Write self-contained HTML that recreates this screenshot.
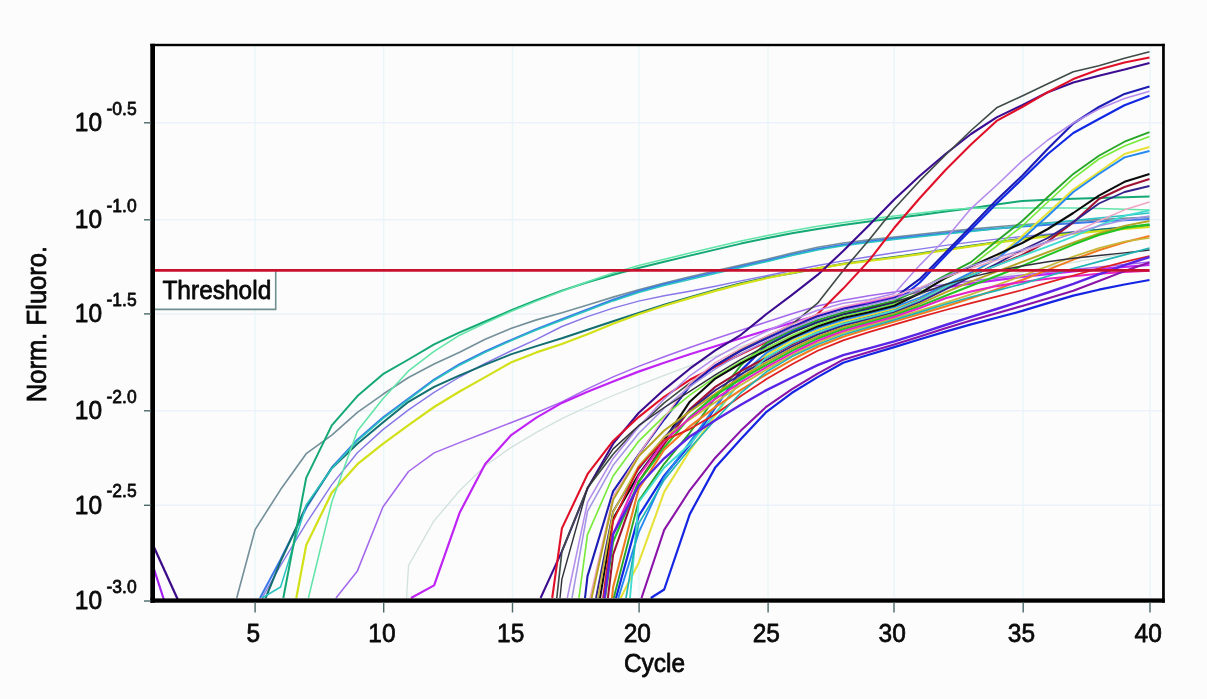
<!DOCTYPE html>
<html lang="en">
<head>
<meta charset="utf-8">
<title>Norm. Fluoro. vs Cycle</title>
<style>
html,body{margin:0;padding:0;background:#fcfcfc;}
body{width:1207px;height:699px;overflow:hidden;font-family:"Liberation Sans",sans-serif;}
svg{display:block;}
text{font-family:"Liberation Sans",sans-serif;fill:#0a0a0a;stroke:#0a0a0a;stroke-width:0.7px;stroke-linejoin:round;}
.t{font-size:24.5px;}
.s{font-size:17.5px;}
.g{stroke-width:1.5;fill:none;}
.k{stroke:#4a6868;stroke-width:1.4;fill:none;}
.c{fill:none;stroke-width:2;stroke-linejoin:round;stroke-linecap:butt;}
</style>
</head>
<body>
<svg width="1207" height="699" viewBox="0 0 1207 699">
<rect x="0" y="0" width="1207" height="699" fill="#fcfcfc"/>

<g class="g" stroke="#eaf7f8">
<line x1="255.1" y1="46" x2="255.1" y2="598"/>
<line x1="383.7" y1="46" x2="383.7" y2="598"/>
<line x1="512.5" y1="46" x2="512.5" y2="598"/>
<line x1="639.1" y1="46" x2="639.1" y2="598"/>
<line x1="768.1" y1="46" x2="768.1" y2="598"/>
<line x1="894.0" y1="46" x2="894.0" y2="598"/>
<line x1="1023.2" y1="46" x2="1023.2" y2="598"/>
<line x1="1150.0" y1="46" x2="1150.0" y2="598"/>
</g>
<g class="g" stroke="#ecf2fa">
<line x1="155" y1="122.8" x2="1162" y2="122.8"/>
<line x1="155" y1="219.8" x2="1162" y2="219.8"/>
<line x1="155" y1="313.9" x2="1162" y2="313.9"/>
<line x1="155" y1="410.8" x2="1162" y2="410.8"/>
<line x1="155" y1="505.3" x2="1162" y2="505.3"/>
</g>
<clipPath id="cp"><rect x="153" y="45" width="1011" height="556"/></clipPath>
<g class="c" clip-path="url(#cp)">
<polyline stroke="#d2e2dc" stroke-width="1.32" points="406.6,598.0 408.5,565.7 434.1,520.7 459.6,490.8 485.2,465.8 510.8,447.6 536.4,432.4 561.9,418.7 587.5,406.6 613.1,395.5 638.6,385.3 664.2,375.4 689.8,365.8 715.3,356.2 740.9,346.5 766.5,337.5 792.0,329.4 817.6,321.8 843.2,314.6 868.8,307.9 894.3,301.4 919.9,295.1 945.5,288.9 971.0,282.9 996.6,277.2 1022.2,272.0 1047.8,267.0 1073.3,262.3 1098.9,257.9 1124.5,253.8 1149.5,250.0"/>
<polyline stroke="#74909a" stroke-width="1.65" points="236.7,598.0 255.1,529.6 280.6,489.6 306.2,453.7 331.8,435.1 357.4,412.3 382.9,394.3 408.5,377.5 434.1,364.1 459.6,352.2 485.2,339.3 510.8,328.5 536.4,319.9 561.9,312.8 587.5,305.0 613.1,297.1 638.6,289.7 664.2,283.0 689.8,276.7 715.3,270.8 740.9,265.1 766.5,259.4 792.0,253.1 817.6,247.2 843.2,243.0 868.8,239.9 894.3,237.1 919.9,234.3 945.5,231.6 971.0,229.1 996.6,226.8 1022.2,224.7 1047.8,222.8 1073.3,221.1 1098.9,219.6 1124.5,218.2 1149.5,217.0"/>
<polyline stroke="#3c78e8" points="260.0,598.0 280.6,559.5 306.2,508.0 331.8,467.5 357.4,439.7 382.9,417.5 408.5,398.5 434.1,379.6 459.6,364.2 485.2,351.5 510.8,340.1 536.4,329.1 561.9,319.3 587.5,309.4 613.1,299.7 638.6,291.2 664.2,284.3 689.8,278.1 715.3,272.1 740.9,266.4 766.5,260.7 792.0,254.7 817.6,249.0 843.2,244.7 868.8,241.5 894.3,238.6 919.9,235.8 945.5,233.2 971.0,230.8 996.6,228.6 1022.2,226.6 1047.8,224.8 1073.3,223.2 1098.9,221.6 1124.5,220.2 1149.5,219.0"/>
<polyline stroke="#8878e8" stroke-width="1.43" points="262.0,598.0 280.6,565.5 306.2,523.4 331.8,484.6 357.4,452.7 382.9,429.6 408.5,409.9 434.1,392.4 459.6,377.0 485.2,363.3 510.8,351.0 536.4,339.3 561.9,326.5 587.5,316.6 613.1,308.1 638.6,301.1 664.2,295.8 689.8,291.2 715.3,286.2 740.9,280.9 766.5,275.7 792.0,270.5 817.6,265.5 843.2,260.9 868.8,256.7 894.3,252.8 919.9,249.1 945.5,245.4 971.0,242.1 996.6,239.1 1022.2,236.5 1047.8,234.1 1073.3,231.8 1098.9,229.7 1124.5,227.8 1149.5,226.0"/>
<polyline stroke="#126e70" points="265.6,598.0 280.6,561.4 306.2,506.1 331.8,468.3 357.4,443.7 382.9,422.6 408.5,401.8 434.1,386.9 459.6,375.3 485.2,364.6 510.8,354.4 536.4,346.1 561.9,338.3 587.5,329.8 613.1,321.2 638.6,312.9 664.2,304.8 689.8,297.1 715.3,290.0 740.9,283.3 766.5,277.6 792.0,273.2 817.6,268.5 843.2,263.8 868.8,260.2 894.3,257.1 919.9,253.5 945.5,249.6 971.0,245.8 996.6,242.2 1022.2,238.7 1047.8,235.4 1073.3,232.5 1098.9,229.8 1124.5,227.2 1149.5,225.0"/>
<polyline stroke="#d2e018" stroke-width="2.20" points="296.3,598.0 306.2,545.3 331.8,492.7 357.4,464.2 382.9,443.8 408.5,425.1 434.1,407.0 459.6,391.5 485.2,377.1 510.8,362.6 536.4,352.4 561.9,344.0 587.5,334.2 613.1,323.8 638.6,314.2 664.2,305.8 689.8,298.1 715.3,290.9 740.9,284.1 766.5,278.2 792.0,273.0 817.6,268.3 843.2,264.2 868.8,260.8 894.3,257.7 919.9,254.1 945.5,250.2 971.0,246.3 996.6,242.7 1022.2,239.4 1047.8,236.3 1073.3,233.6 1098.9,231.2 1124.5,228.9 1149.5,227.0"/>
<polyline stroke="#2cc4c0" stroke-width="1.54" points="262.0,598.0 280.6,587.0 306.2,505.0 331.8,468.4 357.4,440.8 382.9,418.6 408.5,399.6 434.1,380.5 459.6,365.2 485.2,352.4 510.8,340.9 536.4,330.0 561.9,320.3 587.5,310.5 613.1,300.9 638.6,292.4 664.2,285.5 689.8,279.4 715.3,273.4 740.9,267.5 766.5,261.7 792.0,255.6 817.6,249.9 843.2,245.7 868.8,242.5 894.3,239.6 919.9,236.8 945.5,234.1 971.0,231.4 996.6,228.7 1022.2,226.0 1047.8,223.3 1073.3,220.6 1098.9,218.0 1124.5,215.5 1149.5,213.0"/>
<polyline stroke="#14a874" points="283.3,598.0 306.2,477.9 331.8,425.4 357.4,396.1 382.9,374.2 408.5,359.5 434.1,344.4 459.6,332.3 485.2,321.5 510.8,310.5 536.4,300.1 561.9,290.6 587.5,282.3 613.1,274.8 638.6,268.0 664.2,261.7 689.8,255.6 715.3,249.6 740.9,243.6 766.5,238.2 792.0,233.3 817.6,228.9 843.2,224.9 868.8,221.5 894.3,218.2 919.9,214.9 945.5,211.6 971.0,208.2 996.6,204.4 1022.2,201.0 1047.8,199.7 1073.3,198.8 1098.9,198.0 1124.5,197.2 1149.5,196.5"/>
<polyline stroke="#62e4a8" stroke-width="1.54" points="308.4,598.0 331.8,502.0 357.4,430.9 382.9,398.7 408.5,370.9 434.1,351.3 459.6,335.2 485.2,323.1 510.8,311.5 536.4,301.1 561.9,291.3 587.5,281.7 613.1,272.9 638.6,265.6 664.2,259.2 689.8,253.1 715.3,247.1 740.9,241.1 766.5,235.7 792.0,230.8 817.6,226.3 843.2,222.4 868.8,219.1 894.3,216.1 919.9,213.1 945.5,210.1 971.0,208.2 996.6,208.0 1022.2,208.0 1047.8,208.0 1073.3,208.1 1098.9,208.5 1124.5,209.2 1149.5,210.0"/>
<polyline stroke="#a468ec" stroke-width="1.54" points="336.0,598.0 357.4,570.9 382.9,507.0 408.5,471.5 434.1,452.9 459.6,442.6 485.2,432.8 510.8,422.7 536.4,412.7 561.9,401.9 587.5,388.9 613.1,376.9 638.6,366.4 664.2,356.8 689.8,347.5 715.3,338.7 740.9,330.3 766.5,322.1 792.0,313.8 817.6,306.1 843.2,300.3 868.8,295.8 894.3,291.9 919.9,288.0 945.5,284.5 971.0,281.1 996.6,278.0 1022.2,275.1 1047.8,272.3 1073.3,269.6 1098.9,267.0 1124.5,264.4 1149.5,262.0"/>
<polyline stroke="#c024f4" stroke-width="2.20" points="411.0,598.0 434.1,585.4 459.6,512.8 485.2,464.0 510.8,435.4 536.4,417.6 561.9,402.9 587.5,391.8 613.1,381.4 638.6,371.6 664.2,362.7 689.8,354.3 715.3,346.2 740.9,338.2 766.5,330.4 792.0,322.8 817.6,315.4 843.2,308.2 868.8,302.0 894.3,296.6 919.9,291.7 945.5,287.5 971.0,283.6 996.6,280.1 1022.2,277.0 1047.8,274.1 1073.3,271.5 1098.9,269.0 1124.5,266.8 1149.5,265.0"/>
<polyline stroke="#3a0a88" stroke-width="2.20" points="153.0,545.0 178.0,600.0"/>
<polyline stroke="#a020f0" stroke-width="2.20" points="153.0,566.0 164.0,600.0"/>
<polyline stroke="#3c0c90" stroke-width="2.09" points="540.6,598.0 561.9,551.4 587.5,488.6 613.1,443.7 638.6,413.0 664.2,389.6 689.8,368.7 715.3,350.4 740.9,334.8 766.5,314.0 792.0,294.9 817.6,274.9 843.2,251.0 868.8,225.4 894.3,199.6 919.9,175.8 945.5,154.0 971.0,134.0 996.6,117.4 1022.2,105.2 1047.8,92.2 1073.3,82.6 1098.9,75.7 1124.5,69.6 1149.5,63.0"/>
<polyline stroke="#404c48" stroke-width="1.65" points="556.8,598.0 561.9,551.4 587.5,488.0 613.1,454.2 638.6,426.4 664.2,402.8 689.8,383.1 715.3,365.5 740.9,349.5 766.5,336.6 792.0,324.4 817.6,303.2 843.2,270.4 868.8,240.2 894.3,208.5 919.9,180.7 945.5,155.0 971.0,130.5 996.6,107.8 1022.2,96.0 1047.8,83.8 1073.3,71.7 1098.9,65.7 1124.5,58.3 1149.5,51.8"/>
<polyline stroke="#e01028" stroke-width="2.09" points="552.2,598.0 561.9,528.4 587.5,474.2 613.1,440.9 638.6,417.1 664.2,396.8 689.8,379.8 715.3,366.7 740.9,354.3 766.5,341.8 792.0,329.3 817.6,314.1 843.2,288.6 868.8,260.9 894.3,227.8 919.9,198.0 945.5,170.0 971.0,144.4 996.6,120.9 1022.2,107.0 1047.8,92.2 1073.3,79.1 1098.9,69.6 1124.5,62.6 1149.5,57.4"/>
<polyline stroke="#1c1cb4" stroke-width="2.09" points="585.0,598.0 587.5,576.1 613.1,491.4 638.6,454.5 664.2,419.5 689.8,386.1 715.3,365.4 740.9,350.9 766.5,338.5 792.0,326.6 817.6,316.3 843.2,308.8 868.8,304.1 894.3,297.9 919.9,278.9 945.5,252.8 971.0,226.4 996.6,200.0 1022.2,175.7 1047.8,148.8 1073.3,123.5 1098.9,107.0 1124.5,93.9 1149.5,86.6"/>
<polyline stroke="#b48cec" stroke-width="1.54" points="567.3,598.0 587.5,502.3 613.1,458.4 638.6,426.9 664.2,399.1 689.8,375.8 715.3,357.9 740.9,343.6 766.5,331.3 792.0,320.0 817.6,310.2 843.2,303.3 868.8,299.7 894.3,293.4 919.9,265.1 945.5,239.0 971.0,208.6 996.6,185.2 1022.2,160.9 1047.8,140.0 1073.3,123.0 1098.9,109.0 1124.5,98.5 1149.5,91.3"/>
<polyline stroke="#1028e4" stroke-width="2.20" points="616.0,598.0 638.6,516.1 664.2,475.7 689.8,444.8 715.3,407.7 740.9,370.6 766.5,345.5 792.0,331.9 817.6,322.1 843.2,314.4 868.8,309.5 894.3,302.8 919.9,282.5 945.5,255.5 971.0,229.4 996.6,203.5 1022.2,179.0 1047.8,154.0 1073.3,133.0 1098.9,119.0 1124.5,105.2 1149.5,95.7"/>
<polyline stroke="#26a626" stroke-width="1.87" points="613.7,598.0 638.6,501.1 664.2,463.8 689.8,432.8 715.3,397.8 740.9,365.4 766.5,343.1 792.0,329.9 817.6,320.1 843.2,312.4 868.8,307.0 894.3,300.8 919.9,289.3 945.5,275.4 971.0,262.1 996.6,241.0 1022.2,221.0 1047.8,197.0 1073.3,173.9 1098.9,155.7 1124.5,141.7 1149.5,132.2"/>
<polyline stroke="#78ea3a" stroke-width="1.65" points="578.9,598.0 587.5,534.6 613.1,476.0 638.6,441.3 664.2,416.1 689.8,395.1 715.3,377.1 740.9,361.7 766.5,348.0 792.0,335.4 817.6,324.4 843.2,316.2 868.8,310.5 894.3,304.1 919.9,292.4 945.5,278.4 971.0,266.0 996.6,246.0 1022.2,226.0 1047.8,202.0 1073.3,178.3 1098.9,159.0 1124.5,146.0 1149.5,136.5"/>
<polyline stroke="#e6e23a" stroke-width="2.09" points="620.6,598.0 638.6,562.9 664.2,491.9 689.8,450.7 715.3,415.3 740.9,379.8 766.5,355.0 792.0,340.7 817.6,330.2 843.2,321.8 868.8,315.5 894.3,308.8 919.9,299.4 945.5,287.4 971.0,274.1 996.6,258.0 1022.2,236.0 1047.8,213.0 1073.3,189.6 1098.9,172.0 1124.5,154.0 1149.5,147.0"/>
<polyline stroke="#2488f0" stroke-width="1.87" points="618.3,598.0 638.6,532.6 664.2,477.2 689.8,442.0 715.3,406.7 740.9,375.0 766.5,352.7 792.0,338.7 817.6,328.2 843.2,319.9 868.8,313.7 894.3,307.2 919.9,297.5 945.5,285.2 971.0,272.7 996.6,259.0 1022.2,239.0 1047.8,216.0 1073.3,192.0 1098.9,174.0 1124.5,157.4 1149.5,151.0"/>
<polyline stroke="#0c0c0c" stroke-width="2.09" points="600.0,598.0 613.1,518.8 638.6,474.5 664.2,440.1 689.8,401.7 715.3,378.6 740.9,363.4 766.5,350.4 792.0,337.7 817.6,326.4 843.2,318.1 868.8,312.3 894.3,305.7 919.9,293.3 945.5,277.8 971.0,266.4 996.6,254.9 1022.2,243.0 1047.8,229.0 1073.3,213.0 1098.9,195.7 1124.5,181.8 1149.5,174.0"/>
<polyline stroke="#a01234" stroke-width="2.09" points="607.9,598.0 613.1,554.6 638.6,481.8 664.2,444.1 689.8,409.4 715.3,386.9 740.9,371.2 766.5,357.6 792.0,344.3 817.6,332.5 843.2,323.7 868.8,317.3 894.3,310.5 919.9,300.0 945.5,286.9 971.0,275.4 996.6,265.4 1022.2,255.0 1047.8,241.4 1073.3,222.4 1098.9,199.0 1124.5,187.0 1149.5,179.0"/>
<polyline stroke="#32208c" stroke-width="1.87" points="596.0,598.0 613.1,511.4 638.6,468.8 664.2,437.3 689.8,410.4 715.3,390.3 740.9,374.2 766.5,360.0 792.0,346.5 817.6,334.6 843.2,325.5 868.8,319.0 894.3,312.1 919.9,302.0 945.5,289.3 971.0,276.6 996.6,263.8 1022.2,250.0 1047.8,238.0 1073.3,222.0 1098.9,203.5 1124.5,192.0 1149.5,186.0"/>
<polyline stroke="#f0a4c4" stroke-width="1.43" points="590.0,598.0 613.1,496.4 638.6,454.6 664.2,417.6 689.8,383.4 715.3,362.6 740.9,348.3 766.5,336.1 792.0,324.4 817.6,314.2 843.2,306.7 868.8,301.3 894.3,295.7 919.9,287.5 945.5,277.4 971.0,268.3 996.6,260.3 1022.2,251.9 1047.8,242.7 1073.3,232.7 1098.9,221.0 1124.5,209.8 1149.5,202.0"/>
<polyline stroke="#3fdcd0" stroke-width="1.87" points="630.0,598.0 638.6,502.2 664.2,467.7 689.8,444.3 715.3,413.4 740.9,381.0 766.5,357.4 792.0,343.2 817.6,332.3 843.2,323.7 868.8,317.3 894.3,310.5 919.9,300.0 945.5,286.9 971.0,275.4 996.6,265.5 1022.2,255.9 1047.8,246.3 1073.3,236.7 1098.9,225.6 1124.5,215.9 1149.5,210.4"/>
<polyline stroke="#a494e4" stroke-width="1.54" points="572.0,598.0 587.5,511.4 613.1,465.3 638.6,433.5 664.2,408.1 689.8,386.7 715.3,368.9 740.9,353.9 766.5,340.9 792.0,328.8 817.6,318.3 843.2,310.5 868.8,305.0 894.3,299.1 919.9,289.2 945.5,276.4 971.0,266.0 996.6,257.8 1022.2,249.9 1047.8,241.5 1073.3,233.5 1098.9,226.1 1124.5,219.9 1149.5,216.0"/>
<polyline stroke="#b4a422" stroke-width="1.98" points="591.6,598.0 613.1,499.7 638.6,456.4 664.2,430.5 689.8,411.6 715.3,393.7 740.9,377.2 766.5,362.4 792.0,348.7 817.6,336.6 843.2,327.4 868.8,320.6 894.3,313.7 919.9,303.9 945.5,292.3 971.0,281.6 996.6,271.7 1022.2,261.9 1047.8,252.1 1073.3,242.6 1098.9,233.5 1124.5,225.9 1149.5,221.0"/>
<polyline stroke="#22c422" stroke-width="2.09" points="605.0,598.0 613.1,541.8 638.6,482.0 664.2,447.6 689.8,417.0 715.3,395.4 740.9,379.1 766.5,364.8 792.0,350.9 817.6,338.6 843.2,329.2 868.8,322.2 894.3,315.2 919.9,306.1 945.5,295.8 971.0,285.7 996.6,275.9 1022.2,265.9 1047.8,255.1 1073.3,244.6 1098.9,235.1 1124.5,227.9 1149.5,224.4"/>
<polyline stroke="#f07c22" stroke-width="2.09" points="612.0,598.0 613.1,587.3 638.6,489.2 664.2,449.8 689.8,426.3 715.3,407.1 740.9,389.8 766.5,374.3 792.0,359.8 817.6,346.8 843.2,336.7 868.8,328.8 894.3,321.5 919.9,314.0 945.5,306.5 971.0,298.3 996.6,289.4 1022.2,279.9 1047.8,269.9 1073.3,259.6 1098.9,250.3 1124.5,242.3 1149.5,236.0"/>
<polyline stroke="#c8b83c" stroke-width="1.76" points="598.0,598.0 613.1,512.1 638.6,466.0 664.2,437.1 689.8,419.6 715.3,402.2 740.9,385.1 766.5,369.6 792.0,355.3 817.6,342.7 843.2,332.9 868.8,325.4 894.3,318.3 919.9,310.6 945.5,302.7 971.0,294.3 996.6,285.2 1022.2,275.9 1047.8,266.2 1073.3,256.6 1098.9,248.2 1124.5,241.5 1149.5,238.0"/>
<polyline stroke="#30303c" stroke-width="1.43" points="560.0,598.0 561.9,579.1 587.5,487.6 613.1,448.9 638.6,425.7 664.2,407.5 689.8,391.4 715.3,374.9 740.9,359.4 766.5,345.7 792.0,333.2 817.6,322.4 843.2,314.2 868.8,308.2 894.3,302.2 919.9,293.9 945.5,284.5 971.0,277.1 996.6,271.0 1022.2,266.0 1047.8,261.7 1073.3,258.2 1098.9,255.5 1124.5,252.9 1149.5,250.0"/>
<polyline stroke="#e424c4" stroke-width="2.09" points="604.4,598.0 613.1,534.2 638.6,475.9 664.2,441.4 689.8,418.0 715.3,398.8 740.9,382.1 766.5,367.2 792.0,353.1 817.6,340.7 843.2,331.1 868.8,323.8 894.3,316.8 919.9,307.9 945.5,298.3 971.0,291.4 996.6,286.1 1022.2,282.0 1047.8,278.8 1073.3,276.2 1098.9,273.8 1124.5,272.0 1149.5,270.8"/>
<polyline stroke="#e02020" stroke-width="1.76" points="603.0,598.0 613.1,521.0 638.6,467.5 664.2,440.1 689.8,429.1 715.3,414.2 740.9,396.0 766.5,379.1 792.0,364.2 817.6,350.8 843.2,340.4 868.8,332.2 894.3,324.7 919.9,317.2 945.5,310.0 971.0,303.1 996.6,296.6 1022.2,290.0 1047.8,282.7 1073.3,275.5 1098.9,268.5 1124.5,261.9 1149.5,256.0"/>
<polyline stroke="#20b4b4" stroke-width="1.65" points="626.0,598.0 638.6,523.9 664.2,479.9 689.8,448.5 715.3,419.7 740.9,392.8 766.5,371.8 792.0,356.6 817.6,344.5 843.2,334.8 868.8,327.1 894.3,319.9 919.9,312.1 945.5,304.2 971.0,297.0 996.6,290.6 1022.2,283.9 1047.8,276.3 1073.3,268.5 1098.9,261.6 1124.5,254.9 1149.5,248.0"/>
<polyline stroke="#5a24e4" stroke-width="2.42" points="604.4,598.0 613.1,534.2 638.6,485.8 664.2,458.3 689.8,436.5 715.3,420.2 740.9,404.7 766.5,390.1 792.0,377.5 817.6,365.2 843.2,355.1 868.8,348.4 894.3,341.3 919.9,333.3 945.5,325.0 971.0,316.9 996.6,309.0 1022.2,300.9 1047.8,292.5 1073.3,283.8 1098.9,274.4 1124.5,265.2 1149.5,257.0"/>
<polyline stroke="#8a14a8" stroke-width="2.09" points="641.5,598.0 664.2,529.9 689.8,490.3 715.3,457.7 740.9,430.6 766.5,406.6 792.0,389.2 817.6,373.6 843.2,359.7 868.8,352.1 894.3,344.6 919.9,336.5 945.5,328.3 971.0,320.6 996.6,313.3 1022.2,305.9 1047.8,298.6 1073.3,290.8 1098.9,281.1 1124.5,271.1 1149.5,262.6"/>
<polyline stroke="#1424e2" stroke-width="2.20" points="650.8,598.0 664.2,589.5 689.8,514.1 715.3,467.4 740.9,439.1 766.5,411.8 792.0,392.8 817.6,377.1 843.2,362.7 868.8,354.7 894.3,347.1 919.9,339.3 945.5,331.6 971.0,324.4 996.6,317.8 1022.2,310.9 1047.8,303.1 1073.3,295.6 1098.9,289.7 1124.5,284.5 1149.5,280.0"/>
</g>
<rect x="155" y="271" width="120.5" height="38.4" fill="#fefefe" stroke="none"/>
<path d="M275.7 271 V309.4 H155" fill="none" stroke="#6f8f90" stroke-width="1.6"/>
<line x1="155" y1="270.4" x2="1149.5" y2="270.4" stroke="#c8102e" stroke-width="2.9"/>
<text class="t" transform="translate(162.4 299.2) scale(1 1.09)">Threshold</text>
<rect x="150.3" y="43.8" width="4.7" height="558.9" fill="#000"/>
<rect x="150.3" y="598.4" width="1014.5" height="4.3" fill="#000"/>
<rect x="150.3" y="43.8" width="1014.5" height="2.4" fill="#000"/>
<rect x="1162.1" y="43.8" width="2.7" height="558.9" fill="#000"/>
<g class="k">
<line x1="255.1" y1="602.5" x2="255.1" y2="612.5"/>
<line x1="383.7" y1="602.5" x2="383.7" y2="612.5"/>
<line x1="512.5" y1="602.5" x2="512.5" y2="612.5"/>
<line x1="639.1" y1="602.5" x2="639.1" y2="612.5"/>
<line x1="768.1" y1="602.5" x2="768.1" y2="612.5"/>
<line x1="894.0" y1="602.5" x2="894.0" y2="612.5"/>
<line x1="1023.2" y1="602.5" x2="1023.2" y2="612.5"/>
<line x1="1150.0" y1="602.5" x2="1150.0" y2="612.5"/>
<line x1="144" y1="122.8" x2="151" y2="122.8"/>
<line x1="144" y1="219.8" x2="151" y2="219.8"/>
<line x1="144" y1="313.9" x2="151" y2="313.9"/>
<line x1="144" y1="410.8" x2="151" y2="410.8"/>
<line x1="144" y1="505.3" x2="151" y2="505.3"/>
<line x1="144" y1="601.0" x2="151" y2="601.0"/>
</g>
<text class="t" text-anchor="middle" transform="translate(253.3 642) scale(1 1.09)">5</text>
<text class="t" text-anchor="middle" transform="translate(381.9 642) scale(1 1.09)">10</text>
<text class="t" text-anchor="middle" transform="translate(510.7 642) scale(1 1.09)">15</text>
<text class="t" text-anchor="middle" transform="translate(637.3 642) scale(1 1.09)">20</text>
<text class="t" text-anchor="middle" transform="translate(766.3 642) scale(1 1.09)">25</text>
<text class="t" text-anchor="middle" transform="translate(892.2 642) scale(1 1.09)">30</text>
<text class="t" text-anchor="middle" transform="translate(1021.4 642) scale(1 1.09)">35</text>
<text class="t" text-anchor="middle" transform="translate(1148.2 642) scale(1 1.09)">40</text>
<text class="t" text-anchor="middle" transform="translate(654.5 671.5) scale(1 1.09)">Cycle</text>
<text class="t" transform="translate(74.8 131.0) scale(1 1.09)">10</text>
<text class="s" transform="translate(106.5 114.8) scale(1 1.09)">-0.5</text>
<text class="t" transform="translate(74.8 228.0) scale(1 1.09)">10</text>
<text class="s" transform="translate(106.5 211.8) scale(1 1.09)">-1.0</text>
<text class="t" transform="translate(74.8 322.1) scale(1 1.09)">10</text>
<text class="s" transform="translate(106.5 305.9) scale(1 1.09)">-1.5</text>
<text class="t" transform="translate(74.8 419.0) scale(1 1.09)">10</text>
<text class="s" transform="translate(106.5 402.8) scale(1 1.09)">-2.0</text>
<text class="t" transform="translate(74.8 513.5) scale(1 1.09)">10</text>
<text class="s" transform="translate(106.5 497.3) scale(1 1.09)">-2.5</text>
<text class="t" transform="translate(74.8 609.2) scale(1 1.09)">10</text>
<text class="s" transform="translate(106.5 593.0) scale(1 1.09)">-3.0</text>
<text class="t" style="font-size:25.6px" text-anchor="middle" transform="translate(45.9 324) rotate(-90) scale(1 1.1)">Norm. Fluoro.</text>
</svg>
</body>
</html>
